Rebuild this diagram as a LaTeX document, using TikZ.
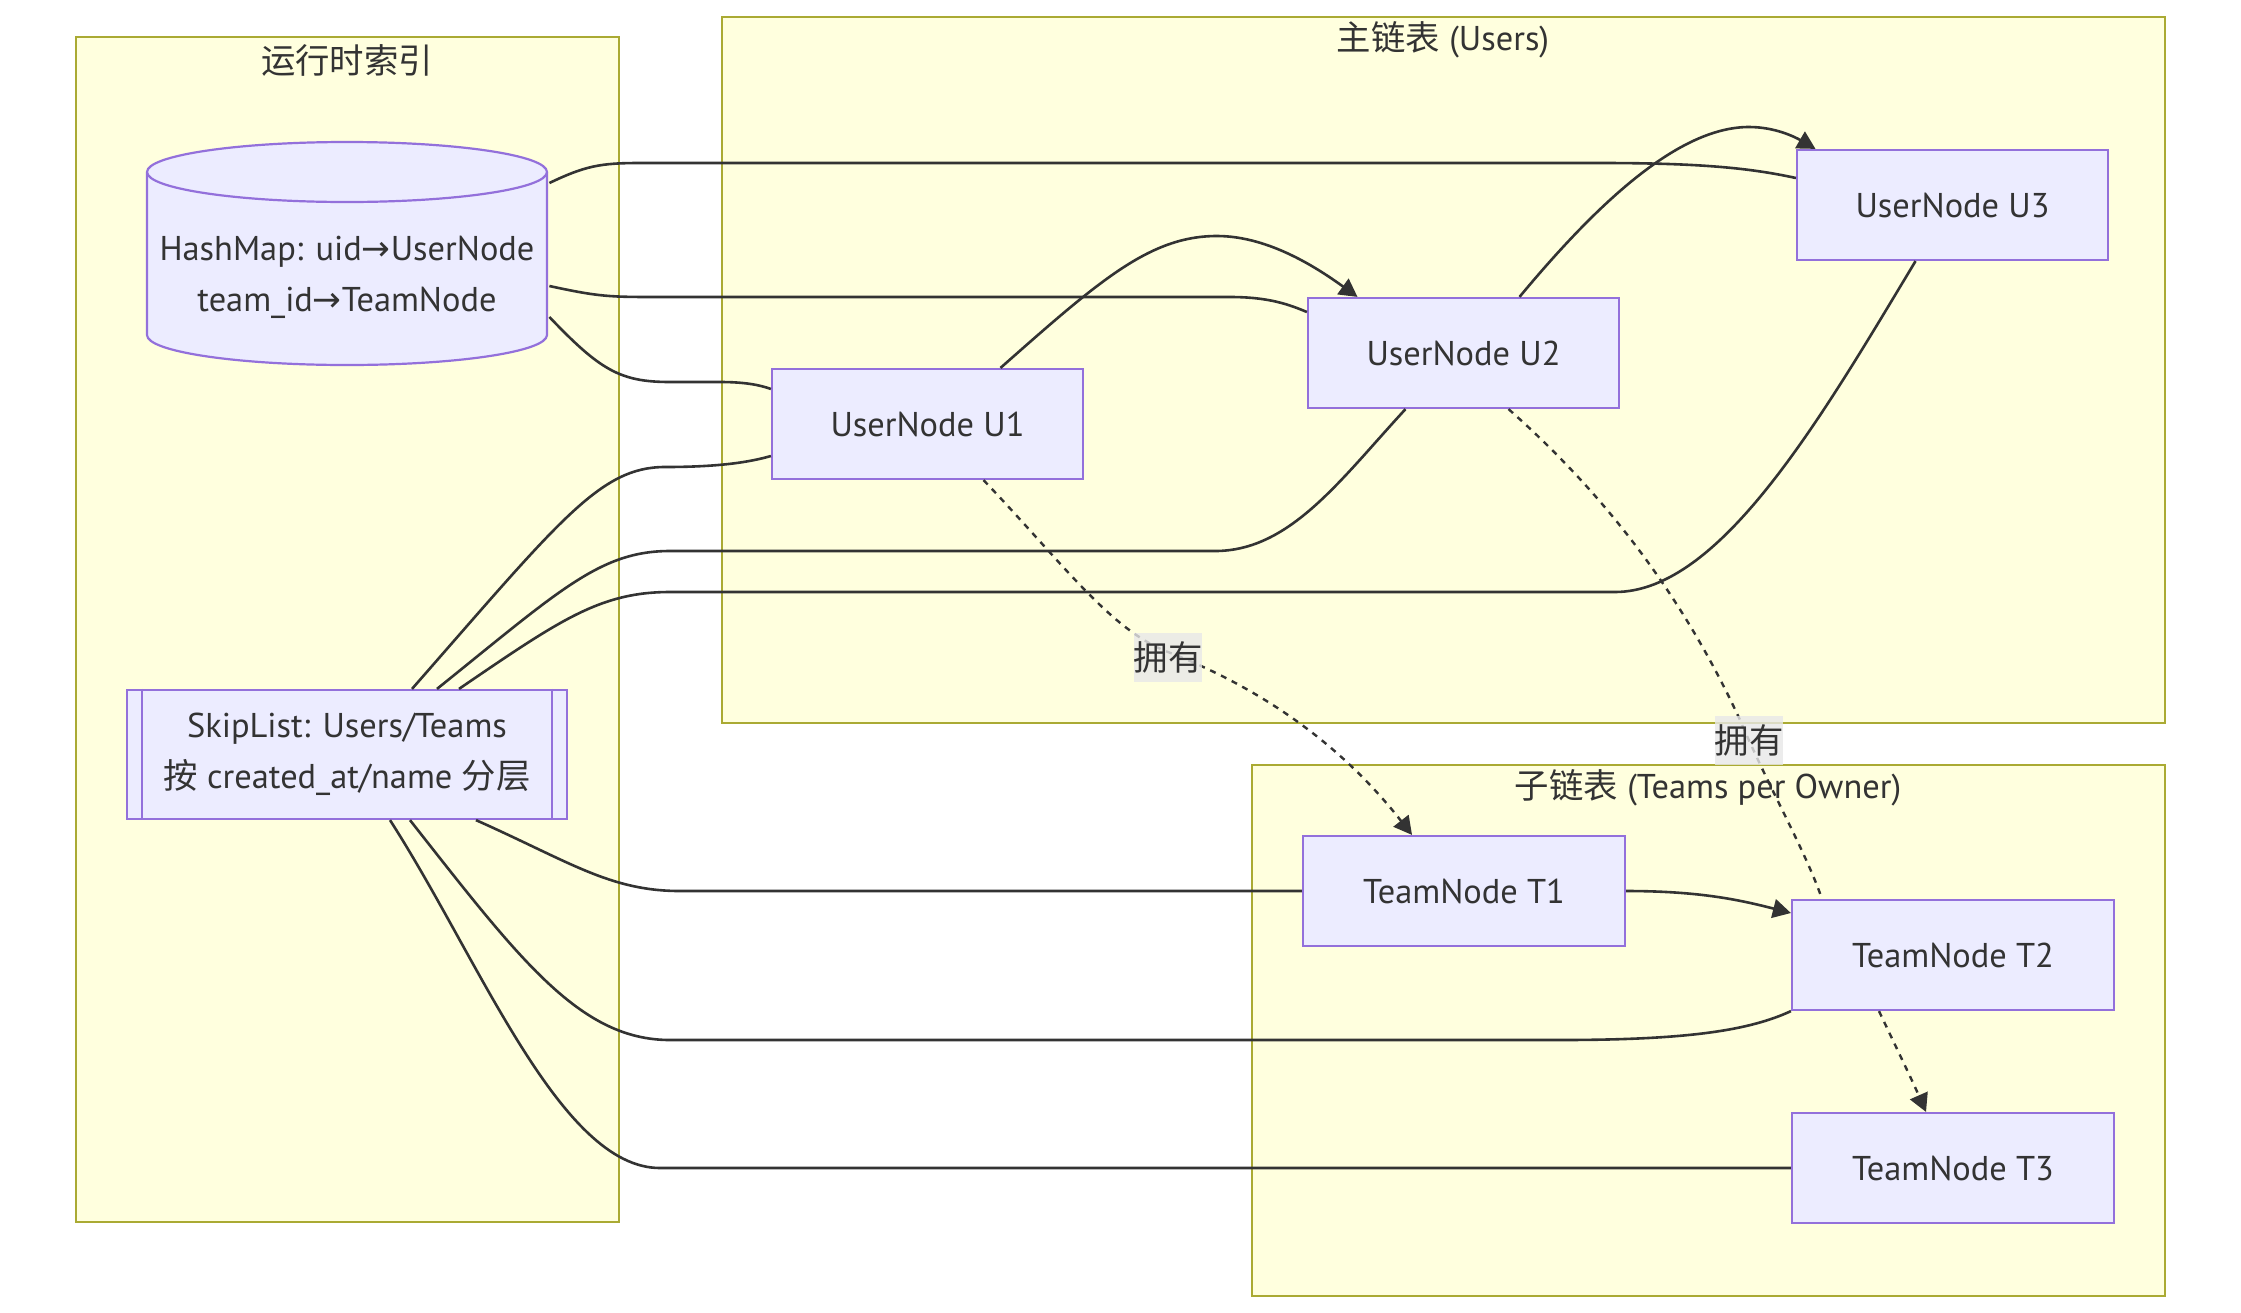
\documentclass[tikz,border=0pt]{standalone}
\usepackage{fontspec}
\setmainfont{PT Sans}
\newfontfamily\cjk{Noto Sans CJK SC}
\newfontfamily\arw{DejaVu Sans}
\usetikzlibrary{arrows.meta,calc}
\definecolor{clfill}{HTML}{FFFFDE}
\definecolor{cldraw}{HTML}{AAAA33}
\definecolor{ndfill}{HTML}{ECECFF}
\definecolor{nddraw}{HTML}{9370DB}
\definecolor{ink}{HTML}{333333}
\definecolor{lblbg}{HTML}{E8E8E8}
\tikzset{
  txt/.style={font=\fontsize{17.2pt}{25.3pt}\selectfont, text=ink},
  cluster/.style={fill=clfill, draw=cldraw, line width=1pt},
  nbox/.style={txt, rectangle, fill=ndfill, draw=nddraw, line width=1.1pt, inner sep=0pt, align=center},
  unode/.style={nbox, minimum width=155.5pt, minimum height=55pt},
  tnode/.style={nbox, minimum width=161pt, minimum height=55pt},
  edge/.style={draw=ink, line width=1.3pt},
  dotedge/.style={draw=ink, line width=1.2pt, dash pattern=on 3pt off 3pt},
  tip/.style={-{Triangle[length=9pt,width=9.5pt]}},
  lbl/.style={txt, fill=lblbg, fill opacity=0.8, text opacity=1, inner sep=0pt, minimum width=32pt, minimum height=24.5pt},
  ttl/.style={txt, inner sep=0pt}
}
\begin{document}
\begin{tikzpicture}[x=0.5pt, y=-0.5pt]
\useasboundingbox (0,0) rectangle (2241,1312);
\fill[white] (0,0) rectangle (2241,1312);

% clusters
\draw[cluster] (76,37) rectangle (619,1222);
\draw[cluster] (722,17) rectangle (2165,723);
\draw[cluster] (1252,765) rectangle (2165,1296);
\node[ttl] (c1t) at (347,60) {\cjk 运行时索引};
\node[ttl] (c2t) at (1443,40) {\cjk 主链表\rmfamily\ (Users)};
\node[ttl] (c3t) at (1708,788) {\cjk 子链表\rmfamily\ (Teams per Owner)};

% hashmap cylinder
\node[draw=none, minimum width=200pt, minimum height=111.5pt, inner sep=0pt] (hm) at (347,254) {};
\path[fill=ndfill, draw=nddraw, line width=1.1pt]
  (147,172) -- (147,335) arc[start angle=180, end angle=360, x radius=100pt, y radius=15pt]
  -- (547,172) arc[start angle=0, end angle=180, x radius=100pt, y radius=15pt] -- cycle;
\draw[draw=nddraw, line width=1.1pt] (147,172) arc[start angle=180, end angle=360, x radius=100pt, y radius=15pt];
\node[txt, align=center] (hmtxt) at (347,277) {HashMap: uid{\arw →}UserNode\\team\_id{\arw →}TeamNode};

% skiplist
\node[nbox, minimum width=220pt, minimum height=64.5pt] (sl) at (347,754.5) {SkipList: Users/Teams\\{\cjk 按} created\_at/name {\cjk 分层}};
\draw[draw=nddraw, line width=1.1pt] ($(sl.north west)+(16,0)$) -- ($(sl.south west)+(16,0)$);
\draw[draw=nddraw, line width=1.1pt] ($(sl.north east)+(-16,0)$) -- ($(sl.south east)+(-16,0)$);

% user nodes
\node[unode] (u1) at (927.5,424) {UserNode U1};
\node[unode] (u2) at (1463.5,353) {UserNode U2};
\node[unode] (u3) at (1952.5,205) {UserNode U3};
% team nodes
\node[tnode] (t1) at (1464,891) {TeamNode T1};
\node[tnode] (t2) at (1953,955) {TeamNode T2};
\node[tnode] (t3) at (1953,1168) {TeamNode T3};

% hashmap edges
\draw[edge] ($(hm.east)+(2,-71)$) .. controls (585,166) and (600,163) .. (640,163) -- (1600,163) .. controls (1700,163) and (1750,168) .. ($(u3.west)+(0,-27)$);
\draw[edge] ($(hm.east)+(2,32)$) .. controls (600,297) and (610,297) .. (660,297) -- (1230,297) .. controls (1270,297) and (1290,305) .. ($(u2.west)+(0,-41)$);
\draw[edge] ($(hm.east)+(2,63)$) .. controls (600,370) and (620,382) .. (670,382) -- (720,382) .. controls (745,382) and (760,385) .. ($(u1.west)+(0,-35)$);

% skiplist edges
\draw[edge] ($(sl.north)+(65,0)$) .. controls (560,520) and (600,467) .. (665,467) .. controls (720,467) and (750,462) .. ($(u1.west)+(0,32)$);
\draw[edge] ($(sl.north)+(90,0)$) .. controls (560,590) and (600,551) .. (670,551) -- (1215,551) .. controls (1290,551) and (1340,480) .. ($(u2.south)+(-58,0)$);
\draw[edge] ($(sl.north)+(112,0)$) .. controls (560,620) and (600,592) .. (670,592) -- (1615,592) .. controls (1720,592) and (1820,420) .. ($(u3.south)+(-37,0)$);
\draw[edge] ($(sl.south)+(129,0)$) .. controls (570,862) and (610,891) .. (680,891) -- (t1.west);
\draw[edge] ($(sl.south)+(63,0)$) .. controls (520,960) and (580,1040) .. (670,1040) -- (1560,1040) .. controls (1690,1040) and (1750,1030) .. (t2.south west);
\draw[edge] ($(sl.south)+(43,0)$) .. controls (480,960) and (560,1168) .. (660,1168) -- (t3.west);

% user chain
\draw[edge, tip] ($(u1.north)+(73,0)$) .. controls (1100,280) and (1150,236) .. (1217,236) .. controls (1270,236) and (1320,270) .. ($(u2.north)+(-106,0)$);
\draw[edge, tip] ($(u2.north)+(56,0)$) .. controls (1600,200) and (1680,127) .. (1749,127) .. controls (1775,127) and (1795,137) .. ($(u3.north)+(-137,0)$);

% team chain
\draw[edge, tip] (t1.east) .. controls (1700,891) and (1740,900) .. ($(t2.west)+(0,-42)$);
\draw[dotedge, tip] ($(t2.south)+(-74,0)$) .. controls (1895,1045) and (1912,1080) .. ($(t3.north)+(-27,0)$);

% ownership
\draw[dotedge, tip] ($(u1.south)+(56,0)$) .. controls (1060,560) and (1110,630) .. (1168,652) .. controls (1240,680) and (1330,730) .. ($(t1.north)+(-52,0)$);
\draw[dotedge] ($(u2.south)+(45,0)$) .. controls (1600,490) and (1680,590) .. (1740,720) .. controls (1770,790) and (1805,850) .. ($(t2.north)+(-131,0)$);

\node[lbl] (l1) at (1168,657) {\cjk 拥有};
\node[lbl] (l2) at (1749,740) {\cjk 拥有};
\end{tikzpicture}
\end{document}
